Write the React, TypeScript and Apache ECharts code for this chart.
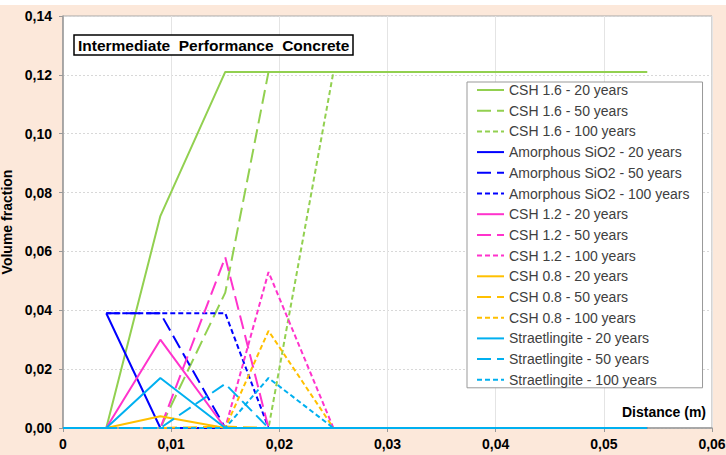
import React, { useEffect, useRef } from "react";
import * as echarts from "echarts";

const distance = [0, 0.004, 0.009, 0.015, 0.019, 0.025, 0.054];

const csh16_20 = [0, 0, 0.072, 0.121, 0.121, 0.121, 0.121];
const csh16_50 = [0, 0, 0, 0.046, 0.121, 0.121, 0.121];
const csh16_100 = [0, 0, 0, 0, 0, 0.121, 0.121];
const sio2_20 = [null, 0.039, 0, 0, 0, 0, 0];
const sio2_50 = [null, 0.039, 0.039, 0, 0, 0, 0];
const sio2_100 = [null, 0.039, 0.039, 0.039, 0, 0, 0];
const csh12_20 = [0, 0, 0.03, 0, 0, 0, 0];
const csh12_50 = [0, 0, 0, 0.058, 0, 0, 0];
const csh12_100 = [0, 0, 0, 0, 0.053, 0, 0];
const csh08_20 = [0, 0, 0.004, 0, 0, 0, 0];
const csh08_50 = [0, 0, 0, 0.0005, 0, 0, 0];
const csh08_100 = [0, 0, 0, 0, 0.033, 0, 0];
const str_20 = [0, 0, 0.017, 0, 0, 0, 0];
const str_50 = [0, 0, 0, 0.015, 0, 0, 0];
const str_100 = [0, 0, 0, 0, 0.017, 0, 0];

const GREEN = "#92D050";
const BLUE = "#0000FF";
const PINK = "#FF33CC";
const YELLOW = "#FFC000";
const CYAN = "#00B0F0";

const LONG: number[] = [14, 6];
const SHORT: number[] = [5, 3];

const seriesDefs: { name: string; data: (number | null)[]; color: string; dash: any }[] = [
  { name: "CSH 1.6 - 20 years", data: csh16_20, color: GREEN, dash: "solid" },
  { name: "CSH 1.6 - 50 years", data: csh16_50, color: GREEN, dash: LONG },
  { name: "CSH 1.6 - 100 years", data: csh16_100, color: GREEN, dash: SHORT },
  { name: "Amorphous SiO2 - 20 years", data: sio2_20, color: BLUE, dash: "solid" },
  { name: "Amorphous SiO2 - 50 years", data: sio2_50, color: BLUE, dash: LONG },
  { name: "Amorphous SiO2 - 100 years", data: sio2_100, color: BLUE, dash: SHORT },
  { name: "CSH 1.2 - 20 years", data: csh12_20, color: PINK, dash: "solid" },
  { name: "CSH 1.2 - 50 years", data: csh12_50, color: PINK, dash: LONG },
  { name: "CSH 1.2 - 100 years", data: csh12_100, color: PINK, dash: SHORT },
  { name: "CSH 0.8 - 20 years", data: csh08_20, color: YELLOW, dash: "solid" },
  { name: "CSH 0.8 - 50 years", data: csh08_50, color: YELLOW, dash: LONG },
  { name: "CSH 0.8 - 100 years", data: csh08_100, color: YELLOW, dash: SHORT },
  { name: "Straetlingite - 20 years", data: str_20, color: CYAN, dash: "solid" },
  { name: "Straetlingite - 50 years", data: str_50, color: CYAN, dash: LONG },
  { name: "Straetlingite - 100 years", data: str_100, color: CYAN, dash: SHORT },
];

const FONT = "Liberation Sans, Arial, sans-serif";

export default function App() {
  const ref = useRef<HTMLDivElement>(null);
  useEffect(() => {
    if (!ref.current) return;
    const chart = echarts.init(ref.current, undefined, { renderer: "svg" });
    chart.setOption({
      animation: false,
      backgroundColor: "#FCE8DA",
      textStyle: { fontFamily: FONT },
      graphic: [
        {
          type: "rect",
          z: -10,
          shape: { x: 0, y: 0, width: 726, height: 5 },
          style: { fill: "#ffffff" },
          silent: true,
        },
      ],
      title: {
        text: "Intermediate  Performance  Concrete",
        left: 74,
        top: 35,
        padding: [2, 4, 2, 4],
        borderColor: "#000",
        borderWidth: 1.5,
        backgroundColor: "#fff",
        textStyle: { fontSize: 15.5, fontWeight: "bold", color: "#000", fontFamily: FONT },
      },
      grid: {
        left: 63,
        top: 16,
        right: 14,
        bottom: 27,
        containLabel: false,
        outerBoundsMode: "none",
        show: true,
        backgroundColor: "#ffffff",
        borderColor: "#a8a8a8",
        borderWidth: 1,
      },
      legend: {
        orient: "vertical",
        left: 467,
        top: 82,
        padding: [1, 13, 1, 9],
        backgroundColor: "#ffffff",
        borderColor: "#999",
        borderWidth: 1,
        itemWidth: 27,
        itemHeight: 14,
        itemGap: 6.7,
        itemStyle: { opacity: 0, borderWidth: 0 },
        textStyle: { fontSize: 14, color: "#404040", fontFamily: FONT, lineHeight: 14 },
        data: seriesDefs.map((s) => s.name),
      },
      xAxis: {
        type: "value",
        min: 0,
        max: 0.06,
        interval: 0.01,
        name: "Distance (m)",
        nameLocation: "end",
        nameGap: -6,
        nameTextStyle: {
          fontSize: 14,
          fontWeight: "bold",
          color: "#000",
          align: "right",
          verticalAlign: "bottom",
          padding: [0, 0, 9, 0],
        },
        axisLine: { show: true, lineStyle: { color: "#999", width: 1.5 } },
        axisTick: { show: true, length: 4, lineStyle: { color: "#999" } },
        axisLabel: {
          margin: 9,
          fontSize: 14,
          fontWeight: "bold",
          color: "#000",
          formatter: (v: number) => (v === 0 ? "0" : v.toFixed(2).replace(".", ",")),
        },
        splitLine: { show: true, lineStyle: { color: "#e4e4e4", width: 1 } },
      },
      yAxis: {
        type: "value",
        min: 0,
        max: 0.14,
        interval: 0.02,
        name: "Volume fraction",
        nameLocation: "middle",
        nameGap: 46,
        nameTextStyle: { fontSize: 14, fontWeight: "bold", color: "#000" },
        axisLine: { show: true, lineStyle: { color: "#999", width: 1.5 } },
        axisTick: { show: true, length: 4, lineStyle: { color: "#999" } },
        axisLabel: {
          margin: 11,
          fontSize: 14,
          fontWeight: "bold",
          color: "#000",
          formatter: (v: number) => v.toFixed(2).replace(".", ","),
        },
        splitLine: { show: true, lineStyle: { color: "#d8d8d8", width: 1, type: [2, 2] } },
      },
      series: seriesDefs.map((s) => ({
        name: s.name,
        type: "line",
        data: distance.map((d, i) => [d, s.data[i]]),
        showSymbol: false,
        symbol: "none",
        connectNulls: false,
        color: s.color,
        lineStyle: { color: s.color, width: 2, type: s.dash },
        emphasis: { disabled: true },
      })),
    });
    return () => chart.dispose();
  }, []);
  return (
    <div
      ref={ref}
      style={{ position: "absolute", left: 0, top: 0, width: 726, height: 455 }}
    />
  );
}
